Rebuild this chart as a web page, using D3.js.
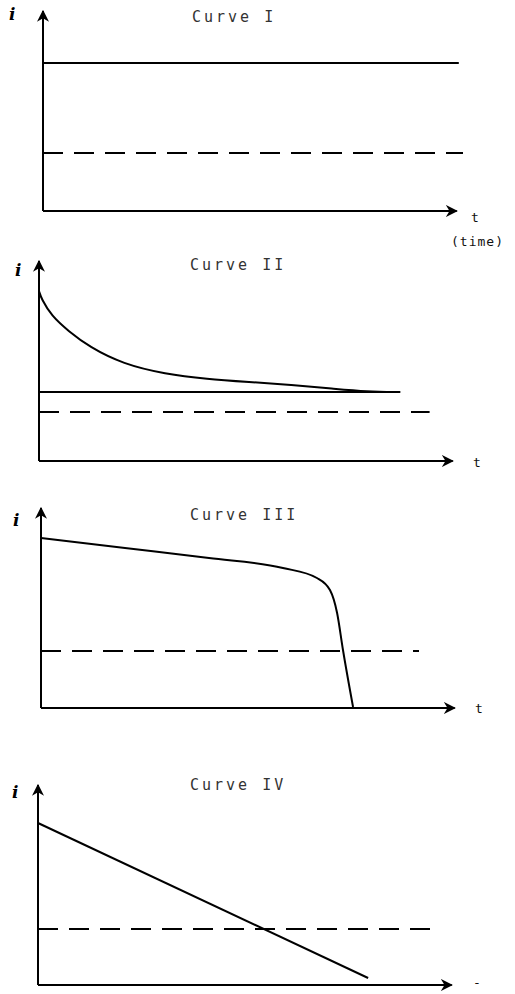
<!DOCTYPE html>
<html>
<head>
<meta charset="utf-8">
<script src="https://cdn.jsdelivr.net/npm/d3@7"></script>
<style>
  body { margin:0; background:#fff; }
  .title { font-family:"DejaVu Sans Mono", monospace; font-size:15px; letter-spacing:3px; fill:#333; }
  .lbl { font-family:"DejaVu Sans Mono", monospace; font-size:13px; fill:#111; }
</style>
</head>
<body>
<div id="chart"></div>
<script>
// values, every panel uses 0..10 on both axes
const panelTitles = ["Curve I", "Curve II", "Curve III", "Curve IV"]
const xLabels = ["t", "t", "t", "-"]

const curveI = [[0, 7.4], [9.9, 7.4]]
const curveII = [[0, 8.5], [0.06, 8.1], [0.3, 7.25], [0.7, 6.5], [1.2, 5.7], [2.0, 4.85],
                 [3.0, 4.35], [4.0, 4.1], [5.0, 3.95], [6.0, 3.8], [7.0, 3.62],
                 [7.8, 3.47], [8.6, 3.45]]
const flatII = [[0, 3.45], [8.6, 3.45]]
const curveIII = [[0, 8.5], [2.0, 8.0], [4.0, 7.5], [5.76, 7.0], [6.57, 6.5], [6.88, 5.9],
                  [7.05, 4.75], [7.19, 2.9], [7.43, 0.05]]
const curveIV = [[0, 8.1], [7.86, 0.35]]

const dashedLevel = [2.9, 2.45, 2.85, 2.8]
const dashedEnd = [10, 9.3, 9.0, 9.4]

// where each panel sits (origin of axes)
const panels = [
    {ox:43, oy:211, curves:[curveI],          kind:d3.curveLinear},
    {ox:39, oy:461, curves:[curveII, flatII], kind:d3.curveBasis},
    {ox:41, oy:708, curves:[curveIII],        kind:d3.curveMonotoneX},
    {ox:38, oy:985, curves:[curveIV],         kind:d3.curveLinear}
]
const titlePos = [[192, 22], [190, 270], [190, 520], [190, 790]]
const iPos = [[9, 20], [15, 276], [13, 526], [12, 798]]
const tPos = [[471, 222], [473, 467], [475, 713], [473, 987]]

var svg = d3.select("#chart").append("svg").attr("width", 515).attr("height", 994)

svg.append("defs").append("marker")
    .attr("id", "arr")
    .attr("viewBox", "0 0 10 10")
    .attr("refX", 9).attr("refY", 5)
    .attr("markerWidth", 6).attr("markerHeight", 6)
    .attr("markerUnits", "strokeWidth")
    .attr("orient", "auto")
    .append("path").attr("d", "M0,0L10,5L0,10L3,5Z").attr("fill", "#000")

panels.forEach((p, idx) => {
    var x = d3.scaleLinear().domain([0, 10]).range([p.ox, p.ox + 420])
    var y = d3.scaleLinear().domain([0, 10]).range([p.oy, p.oy - 200])
    var g = svg.append("g")

    // axes with arrows
    g.append("line")
        .attr("x1", x(0)).attr("y1", y(0)).attr("x2", x(9.85)).attr("y2", y(0))
        .attr("stroke", "#000").attr("stroke-width", 2).attr("marker-end", "url(#arr)")
    g.append("line")
        .attr("x1", x(0)).attr("y1", y(0)).attr("x2", x(0)).attr("y2", y(10))
        .attr("stroke", "#000").attr("stroke-width", 2).attr("marker-end", "url(#arr)")

    // dashed reference level
    g.append("line")
        .attr("x1", x(0)).attr("x2", x(dashedEnd[idx]))
        .attr("y1", y(dashedLevel[idx])).attr("y2", y(dashedLevel[idx]))
        .attr("stroke", "#000").attr("stroke-width", 1.8)
        .attr("stroke-dasharray", "20,11")

    var line = d3.line()
        .x(d => x(d[0])).y(d => y(d[1]))
        .curve(p.kind)
    p.curves.forEach(c => {
        g.append("path").datum(c)
            .attr("d", line)
            .attr("fill", "none").attr("stroke", "#000").attr("stroke-width", 2)
    })

    g.append("text").attr("class", "title")
        .attr("x", titlePos[idx][0]).attr("y", titlePos[idx][1])
        .text(panelTitles[idx])
    g.append("text")
        .attr("x", iPos[idx][0]).attr("y", iPos[idx][1])
        .style("font-family", "DejaVu Serif").style("font-style", "italic")
        .style("font-size", "17px").style("font-weight", "bold")
        .text("i")
    g.append("text").attr("class", "lbl")
        .attr("x", tPos[idx][0]).attr("y", tPos[idx][1])
        .text(xLabels[idx])
})

svg.append("text").attr("class", "lbl")
    .attr("x", 451).attr("y", 246)
    .style("letter-spacing", "1px")
    .text("(time)")
</script>
</body>
</html>
